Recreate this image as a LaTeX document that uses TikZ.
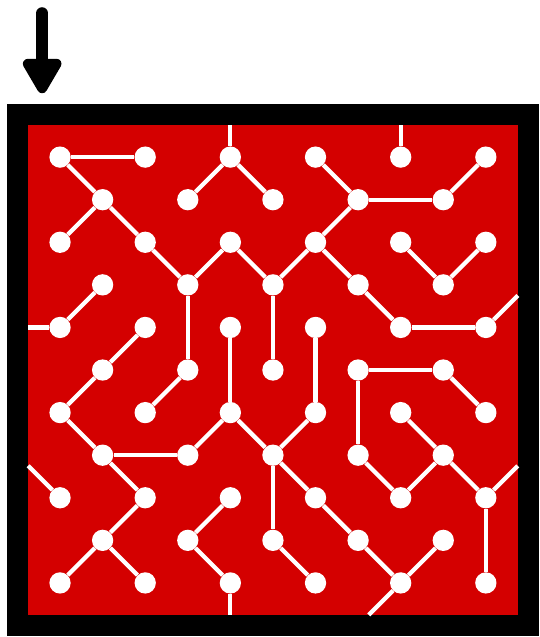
\documentclass[tikz,border=0pt]{standalone}
\usetikzlibrary{arrows.meta}
\definecolor{mazered}{HTML}{D40000}

\begin{document}
\begin{tikzpicture}[x=1cm,y=-1cm,
  dot/.style={circle,fill=white,minimum size=0.5cm,inner sep=0pt},
  link/.style={white,line width=0.1cm}
]
\useasboundingbox (-1.41,-3.69) rectangle (11.25,11.27);

% ---- Frame --------------------------------------------------
\fill[black]   (-1.25,-1.25) rectangle (11.25,11.25);
\fill[mazered] (-0.75,-0.75) rectangle (10.75,10.75);

% ---- Entry arrow --------------------------------------------
\coordinate (arrowtop) at (-0.42,-3.38);
\coordinate (arrowtip) at (-0.42,-1.50);
\draw[line width=0.28cm,line cap=round,
      -{Triangle[width=1.01cm,length=0.94cm,round]}] (arrowtop) -- (arrowtip);

% ---- Open ends at the frame ---------------------------------
\coordinate (top1)   at (4,-0.75);
\coordinate (top2)   at (8,-0.75);
\coordinate (left1)  at (-0.75,4);
\coordinate (left2)  at (-0.75,7.25);
\coordinate (right1) at (10.75,3.25);
\coordinate (right2) at (10.75,7.25);
\coordinate (bot1)   at (4,10.75);
\coordinate (bot2)   at (7.25,10.75);

% ---- Row 0 --------------------------------------------------
\node[dot] (d0-0)  at (0,0)  {};
\node[dot] (d2-0)  at (2,0)  {};
\node[dot] (d4-0)  at (4,0)  {};
\node[dot] (d6-0)  at (6,0)  {};
\node[dot] (d8-0)  at (8,0)  {};
\node[dot] (d10-0) at (10,0) {};

% ---- Row 1 --------------------------------------------------
\node[dot] (d1-1) at (1,1) {};
\node[dot] (d3-1) at (3,1) {};
\node[dot] (d5-1) at (5,1) {};
\node[dot] (d7-1) at (7,1) {};
\node[dot] (d9-1) at (9,1) {};

% ---- Row 2 --------------------------------------------------
\node[dot] (d0-2)  at (0,2)  {};
\node[dot] (d2-2)  at (2,2)  {};
\node[dot] (d4-2)  at (4,2)  {};
\node[dot] (d6-2)  at (6,2)  {};
\node[dot] (d8-2)  at (8,2)  {};
\node[dot] (d10-2) at (10,2) {};

% ---- Row 3 --------------------------------------------------
\node[dot] (d1-3) at (1,3) {};
\node[dot] (d3-3) at (3,3) {};
\node[dot] (d5-3) at (5,3) {};
\node[dot] (d7-3) at (7,3) {};
\node[dot] (d9-3) at (9,3) {};

% ---- Row 4 --------------------------------------------------
\node[dot] (d0-4)  at (0,4)  {};
\node[dot] (d2-4)  at (2,4)  {};
\node[dot] (d4-4)  at (4,4)  {};
\node[dot] (d6-4)  at (6,4)  {};
\node[dot] (d8-4)  at (8,4)  {};
\node[dot] (d10-4) at (10,4) {};

% ---- Row 5 --------------------------------------------------
\node[dot] (d1-5) at (1,5) {};
\node[dot] (d3-5) at (3,5) {};
\node[dot] (d5-5) at (5,5) {};
\node[dot] (d7-5) at (7,5) {};
\node[dot] (d9-5) at (9,5) {};

% ---- Row 6 --------------------------------------------------
\node[dot] (d0-6)  at (0,6)  {};
\node[dot] (d2-6)  at (2,6)  {};
\node[dot] (d4-6)  at (4,6)  {};
\node[dot] (d6-6)  at (6,6)  {};
\node[dot] (d8-6)  at (8,6)  {};
\node[dot] (d10-6) at (10,6) {};

% ---- Row 7 --------------------------------------------------
\node[dot] (d1-7) at (1,7) {};
\node[dot] (d3-7) at (3,7) {};
\node[dot] (d5-7) at (5,7) {};
\node[dot] (d7-7) at (7,7) {};
\node[dot] (d9-7) at (9,7) {};

% ---- Row 8 --------------------------------------------------
\node[dot] (d0-8)  at (0,8)  {};
\node[dot] (d2-8)  at (2,8)  {};
\node[dot] (d4-8)  at (4,8)  {};
\node[dot] (d6-8)  at (6,8)  {};
\node[dot] (d8-8)  at (8,8)  {};
\node[dot] (d10-8) at (10,8) {};

% ---- Row 9 --------------------------------------------------
\node[dot] (d1-9) at (1,9) {};
\node[dot] (d3-9) at (3,9) {};
\node[dot] (d5-9) at (5,9) {};
\node[dot] (d7-9) at (7,9) {};
\node[dot] (d9-9) at (9,9) {};

% ---- Row 10 -------------------------------------------------
\node[dot] (d0-10)  at (0,10)  {};
\node[dot] (d2-10)  at (2,10)  {};
\node[dot] (d4-10)  at (4,10)  {};
\node[dot] (d6-10)  at (6,10)  {};
\node[dot] (d8-10)  at (8,10)  {};
\node[dot] (d10-10) at (10,10) {};

% ---- Links, upper half --------------------------------------
\draw[link] (d0-0) -- (d2-0);
\draw[link] (d0-0) -- (d1-1);
\draw[link] (d1-1) -- (d0-2);
\draw[link] (d1-1) -- (d2-2);
\draw[link] (d2-2) -- (d3-3);
\draw[link] (top1) -- (d4-0);
\draw[link] (d4-0) -- (d3-1);
\draw[link] (d4-0) -- (d5-1);
\draw[link] (d3-3) -- (d4-2);
\draw[link] (d4-2) -- (d5-3);
\draw[link] (d3-3) -- (d3-5);
\draw[link] (d1-3) -- (d0-4);
\draw[link] (left1) -- (d0-4);
\draw[link] (d2-4) -- (d1-5);
\draw[link] (d4-4) -- (d4-6);
\draw[link] (d5-3) -- (d5-5);
\draw[link] (d6-0) -- (d7-1);
\draw[link] (top2) -- (d8-0);
\draw[link] (d10-0) -- (d9-1);
\draw[link] (d7-1) -- (d9-1);
\draw[link] (d7-1) -- (d6-2);
\draw[link] (d6-2) -- (d5-3);
\draw[link] (d6-2) -- (d7-3);
\draw[link] (d8-2) -- (d9-3);
\draw[link] (d10-2) -- (d9-3);
\draw[link] (d7-3) -- (d8-4);
\draw[link] (d8-4) -- (d10-4);
\draw[link] (d10-4) -- (right1);
\draw[link] (d6-4) -- (d6-6);
\draw[link] (d7-5) -- (d9-5);

% ---- Links, lower half --------------------------------------
\draw[link] (d1-5) -- (d0-6);
\draw[link] (d3-5) -- (d2-6);
\draw[link] (d4-6) -- (d3-7);
\draw[link] (d4-6) -- (d5-7);
\draw[link] (d0-6) -- (d1-7);
\draw[link] (d1-7) -- (d3-7);
\draw[link] (d1-7) -- (d2-8);
\draw[link] (left2) -- (d0-8);
\draw[link] (d2-8) -- (d1-9);
\draw[link] (d1-9) -- (d0-10);
\draw[link] (d1-9) -- (d2-10);
\draw[link] (d4-8) -- (d3-9);
\draw[link] (d3-9) -- (d4-10);
\draw[link] (d4-10) -- (bot1);
\draw[link] (d5-7) -- (d5-9);
\draw[link] (d6-6) -- (d5-7);
\draw[link] (d5-7) -- (d6-8);
\draw[link] (d7-5) -- (d7-7);
\draw[link] (d9-5) -- (d10-6);
\draw[link] (d8-6) -- (d9-7);
\draw[link] (d7-7) -- (d8-8);
\draw[link] (d8-8) -- (d9-7);
\draw[link] (d9-7) -- (d10-8);
\draw[link] (d10-8) -- (right2);
\draw[link] (d10-8) -- (d10-10);
\draw[link] (d6-8) -- (d7-9);
\draw[link] (d7-9) -- (d8-10);
\draw[link] (d8-10) -- (d9-9);
\draw[link] (d8-10) -- (bot2);
\draw[link] (d5-9) -- (d6-10);

\end{tikzpicture}
\end{document}
